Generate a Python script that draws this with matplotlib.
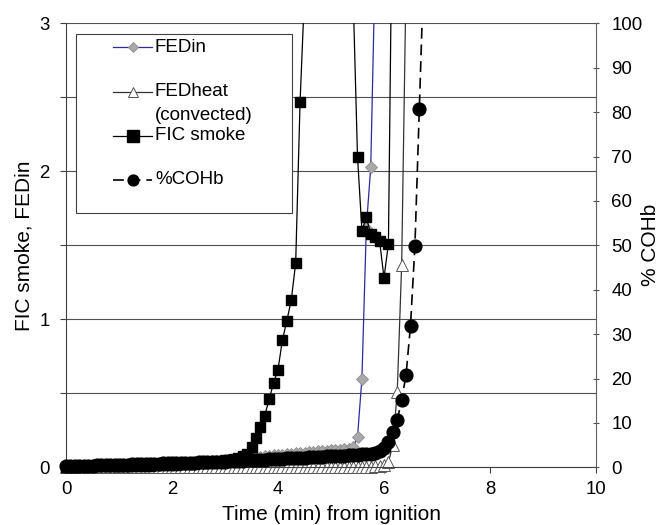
import numpy as np
import matplotlib
matplotlib.use("Agg")
import matplotlib.pyplot as plt
from matplotlib.lines import Line2D
from matplotlib.patches import Rectangle
from matplotlib.ticker import MultipleLocator

plt.rcParams['font.family'] = ['Liberation Sans', 'DejaVu Sans']

# Readings logged every 5 s from ignition (one row of 12 = one minute)
SAMPLE_S = 5

fic_smoke = [
    0.005, 0.005, 0.005, 0.006, 0.006, 0.006, 0.007, 0.007, 0.007, 0.008, 0.008, 0.008,
    0.009, 0.009, 0.010, 0.010, 0.011, 0.011, 0.012, 0.012, 0.013, 0.014, 0.015, 0.016,
    0.017, 0.018, 0.019, 0.020, 0.022, 0.024, 0.026, 0.028, 0.031, 0.034, 0.038, 0.042,
    0.047, 0.052, 0.058, 0.065, 0.075, 0.092, 0.14, 0.20, 0.27, 0.35, 0.46, 0.57,
    0.66, 0.86, 0.99, 1.13, 1.38, 2.47, 3.2, 3.6, 4.1, 4.6, 5.0, 5.3,
    5.4, 5.2, 4.8, 4.3, 3.8, 3.2, 2.10, 1.60, 1.69, 1.575, 1.553, 1.53,
    1.28, 1.51, 4.2,
]

fed_in = [
    0.002, 0.003, 0.004, 0.005, 0.005, 0.006, 0.007, 0.008, 0.008, 0.009, 0.010, 0.011,
    0.012, 0.013, 0.014, 0.015, 0.016, 0.017, 0.018, 0.019, 0.020, 0.021, 0.022, 0.023,
    0.025, 0.026, 0.028, 0.029, 0.031, 0.032, 0.034, 0.036, 0.038, 0.040, 0.042, 0.044,
    0.047, 0.050, 0.053, 0.056, 0.059, 0.062, 0.065, 0.068, 0.071, 0.074, 0.077, 0.080,
    0.083, 0.086, 0.089, 0.092, 0.095, 0.098, 0.100, 0.103, 0.105, 0.108, 0.110, 0.112,
    0.115, 0.118, 0.120, 0.123, 0.126, 0.137, 0.204, 0.60, 1.62, 2.03, 3.4,
]

fed_heat = [
    0.000, 0.000, 0.000, 0.000, 0.000, 0.000, 0.000, 0.000, 0.000, 0.000, 0.000, 0.000,
    0.000, 0.000, 0.000, 0.000, 0.000, 0.000, 0.000, 0.000, 0.000, 0.000, 0.000, 0.000,
    0.000, 0.000, 0.000, 0.000, 0.000, 0.000, 0.000, 0.000, 0.000, 0.000, 0.000, 0.000,
    0.000, 0.000, 0.000, 0.000, 0.000, 0.000, 0.000, 0.000, 0.000, 0.000, 0.000, 0.000,
    0.001, 0.001, 0.001, 0.001, 0.001, 0.001, 0.001, 0.001, 0.002, 0.002, 0.002, 0.002,
    0.002, 0.002, 0.003, 0.003, 0.003, 0.003, 0.004, 0.004, 0.004, 0.005, 0.006, 0.008,
    0.013, 0.036, 0.148, 0.51, 1.37, 3.3,
]

cohb_pct = [
    0.2, 0.23, 0.26, 0.29, 0.32, 0.35, 0.38, 0.41, 0.44, 0.47, 0.5, 0.53,
    0.56, 0.59, 0.62, 0.65, 0.68, 0.71, 0.74, 0.77, 0.8, 0.83, 0.86, 0.89,
    0.92, 0.95, 0.98, 1.01, 1.04, 1.07, 1.1, 1.13, 1.16, 1.19, 1.22, 1.25,
    1.3, 1.35, 1.4, 1.45, 1.5, 1.55, 1.6, 1.65, 1.7, 1.75, 1.8, 1.85,
    1.9, 1.95, 2.0, 2.05, 2.1, 2.15, 2.2, 2.25, 2.3, 2.35, 2.4, 2.45,
    2.5, 2.55, 2.6, 2.65, 2.7, 2.75, 2.8, 2.9, 3.0, 3.1, 3.3, 3.7,
    4.4, 5.7, 7.9, 10.7, 15.1, 20.9, 31.9, 49.9, 80.8, 112.0,
]

legend_labels = ["FEDin", "FEDheat", "(convected)", "FIC smoke", "%COHb"]


def minutes(series):
    return np.arange(len(series)) * SAMPLE_S / 60.0


W, H = 659, 525
fig = plt.figure(figsize=(W / 100, H / 100), dpi=100)


def fx(px):
    return px / W


def fy(py):
    return 1 - py / H


ax = fig.add_axes([fx(66), fy(467.3), (596 - 66) / W, (467.3 - 23.3) / H])
ax.set_xlim(0, 10)
ax.set_ylim(0, 3)
ax.xaxis.set_major_locator(MultipleLocator(2))
ax.yaxis.set_major_locator(MultipleLocator(1))
ax.yaxis.set_minor_locator(MultipleLocator(0.5))
ax.grid(True, which='both', axis='y', color='#505050', lw=0.8)
ax.set_axisbelow(True)
ax.tick_params(axis='y', which='both', direction='out', length=4.3, width=0.8,
               pad=7.5, labelsize=13.4, color='#404040')
ax.tick_params(axis='x', direction='out', length=4, width=0.8, pad=6,
               labelsize=13.4, color='#404040')
for side in ('top', 'right'):
    ax.spines[side].set_visible(False)
for side in ('left', 'bottom'):
    ax.spines[side].set_color('#404040')
    ax.spines[side].set_linewidth(0.8)

ax2 = ax.twinx()
ax2.set_ylim(0, 100)
ax2.yaxis.set_major_locator(MultipleLocator(10))
ax2.tick_params(axis='y', direction='inout', length=5, width=0.8, pad=8.5,
                labelsize=13.4, color='#505050')
for side in ('top', 'left', 'bottom'):
    ax2.spines[side].set_visible(False)
ax2.spines['right'].set_color('#606060')
ax2.spines['right'].set_linewidth(0.8)

# Clip curves at the top of the plot but let markers spill below the baseline
def clip_to(line, axes):
    rect = Rectangle((-0.03, -0.05), 1.06, 1.05, transform=axes.transAxes)
    line.set_clip_path(rect)

fedin_style = dict(color='#2b2b9c', lw=0.9, marker='D', ms=6.3, mfc='#a9a9a9',
                   mec='#8c8c8c', mew=0.6)
fedheat_style = dict(color='#333333', lw=0.9, marker='^', ms=8.6, mfc='white',
                     mec='#555555', mew=0.7)
fic_style = dict(color='black', lw=0.9, marker='s', ms=7.9, mfc='black', mec='black')
cohb_style = dict(color='black', lw=1.2, ls=(0, (6.5, 3.5)), marker='o', ms=9.2,
                  mfc='black', mec='black')

(l1,) = ax.plot(minutes(fed_in), fed_in, **fedin_style)
(l2,) = ax.plot(minutes(fed_heat), fed_heat, **fedheat_style)
(l3,) = ax.plot(minutes(fic_smoke), fic_smoke, **fic_style)
(l4,) = ax2.plot(minutes(cohb_pct), cohb_pct, **cohb_style)
for ln in (l1, l2, l3):
    clip_to(ln, ax)
clip_to(l4, ax2)

ax.set_xlabel("Time (min) from ignition", fontsize=15)
ax.xaxis.set_label_coords(0.5, (467.3 - 515) / 444)
ax.xaxis.label.set_verticalalignment('center')
ax.set_ylabel("FIC smoke, FEDin", fontsize=15)
ax.yaxis.set_label_coords((24 - 66) / 530, 0.5)
ax.yaxis.label.set_verticalalignment('center')
ax2.set_ylabel("% COHb", fontsize=15, rotation=90)
ax2.yaxis.set_label_coords((650 - 66) / 530, 0.5)
ax2.yaxis.label.set_verticalalignment('center')

# Legend panel
fig.add_artist(Rectangle((fx(76), fy(213)), fx(292) - fx(76), fy(34) - fy(213),
                         transform=fig.transFigure, facecolor='white',
                         edgecolor='#404040', lw=0.8, zorder=5))

def legend_entry(py, style, label, ms_scale=0.75):
    st = dict(style)
    st['ms'] = st['ms'] * ms_scale
    fig.add_artist(Line2D([fx(113), fx(132.5), fx(152)], [fy(py)] * 3,
                          transform=fig.transFigure, markevery=[1], zorder=6, **st))
    fig.text(fx(155), fy(py), label, ha='left', va='center', fontsize=13.5, zorder=7)

legend_entry(47, fedin_style, legend_labels[0], 0.85)
legend_entry(92, fedheat_style, legend_labels[1], 0.8)
fig.text(fx(155), fy(115), legend_labels[2], ha='left', va='center', fontsize=13.5, zorder=7)
legend_entry(136, fic_style, legend_labels[3], 1.05)
legend_entry(180, cohb_style, legend_labels[4], 0.85)

fig.savefig("out.png", dpi=100)
